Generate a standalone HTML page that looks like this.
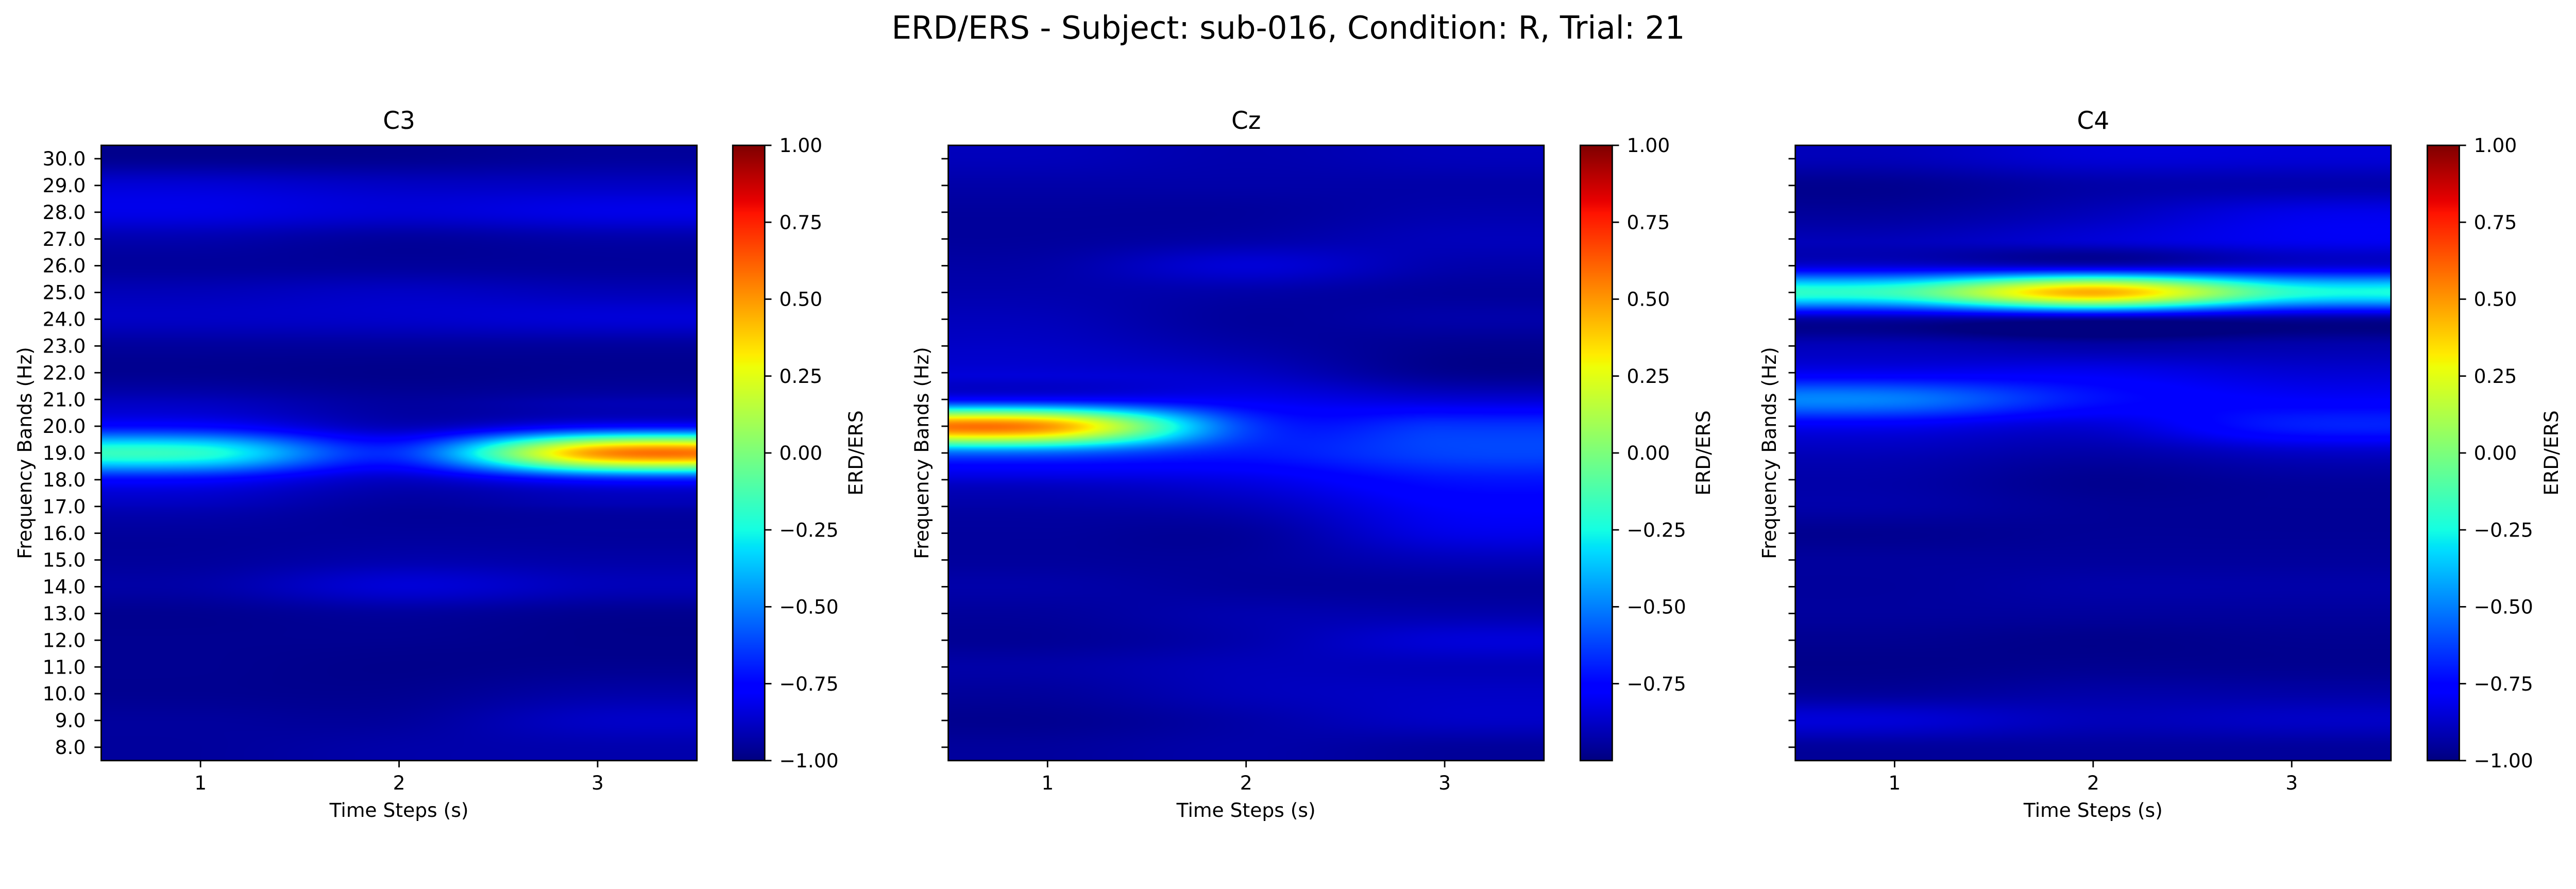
<!DOCTYPE html>
<html><head><meta charset="utf-8">
<meta name="viewport" content="width=5319">
<style>
html,body{margin:0;padding:0;background:#fff;overflow:hidden;}
#root{position:absolute;left:0;top:0;width:5319px;height:1725px;overflow:hidden;background:#fff;font-family:"DejaVu Sans","Liberation Sans",sans-serif;transform-origin:0 0;}
canvas{position:absolute;display:block;}
svg{position:absolute;left:0;top:0;overflow:hidden;display:block;}
</style></head>
<body>
<div id="root">
<canvas id="hm0" style="left:209px;top:300px" width="1230" height="1270"></canvas>
<canvas id="hm1" style="left:1958px;top:300px" width="1230" height="1270"></canvas>
<canvas id="hm2" style="left:3707px;top:300px" width="1230" height="1270"></canvas>
<canvas id="cb0" style="left:1513px;top:300px" width="66" height="1270"></canvas>
<canvas id="cb1" style="left:3263px;top:300px" width="66" height="1270"></canvas>
<canvas id="cb2" style="left:5012px;top:300px" width="66" height="1270"></canvas>
<svg id="ov" width="5319" height="1725" xmlns="http://www.w3.org/2000/svg">
<text x="2660" y="80" font-size="65" text-anchor="middle" fill="#000">ERD/ERS - Subject: sub-016, Condition: R, Trial: 21</text>
</svg>
</div>
<script>
const times = [1, 2, 3];
const freqs = [8,9,10,11,12,13,14,15,16,17,18,19,20,21,22,23,24,25,26,27,28,29,30];
const channels = ["C3", "Cz", "C4"];
const cbTicks = [-1, -0.75, -0.5, -0.25, 0, 0.25, 0.5, 0.75, 1];
const cbTickLabels = ["\u22121.00","\u22120.75","\u22120.50","\u22120.25","0.00","0.25","0.50","0.75","1.00"];
// values per frequency (8..30 Hz) at each time step
const c3T1 = [-0.95,-0.95,-0.97,-0.97,-0.97,-0.97,-0.93,-0.95,-0.95,-0.9,-0.75,-0.2,-0.75,-0.9,-0.97,-0.95,-0.88,-0.9,-0.95,-0.92,-0.82,-0.85,-0.97];
const c3T2 = [-0.93,-0.95,-0.97,-0.98,-0.97,-0.95,-0.85,-0.92,-0.95,-0.95,-0.88,-0.65,-0.9,-0.95,-0.98,-0.95,-0.87,-0.88,-0.95,-0.95,-0.85,-0.88,-0.97];
const c3T3 = [-0.92,-0.88,-0.93,-0.97,-0.98,-0.97,-0.9,-0.93,-0.95,-0.92,-0.7,0.5,-0.75,-0.92,-0.97,-0.95,-0.85,-0.9,-0.95,-0.93,-0.82,-0.88,-0.95];
const czT1 = [-0.95,-0.97,-0.95,-0.93,-0.96,-0.95,-0.93,-0.95,-0.95,-0.93,-0.85,-0.55,0.5,-0.75,-0.85,-0.88,-0.9,-0.92,-0.93,-0.95,-0.95,-0.93,-0.9];
const czT2 = [-0.93,-0.93,-0.9,-0.9,-0.92,-0.92,-0.95,-0.95,-0.95,-0.9,-0.82,-0.7,-0.62,-0.8,-0.88,-0.93,-0.95,-0.93,-0.85,-0.93,-0.95,-0.93,-0.92];
const czT3 = [-0.95,-0.88,-0.88,-0.9,-0.85,-0.92,-0.95,-0.9,-0.82,-0.78,-0.72,-0.62,-0.65,-0.85,-0.97,-0.97,-0.93,-0.95,-0.92,-0.9,-0.92,-0.93,-0.9];
const c4T1 = [-0.95,-0.85,-0.95,-0.98,-0.97,-0.95,-0.95,-0.95,-0.97,-0.93,-0.93,-0.9,-0.8,-0.5,-0.8,-0.9,-0.93,-0.15,-0.85,-0.9,-0.95,-0.97,-0.9];
const c4T2 = [-0.95,-0.9,-0.93,-0.97,-0.98,-0.95,-0.93,-0.95,-0.96,-0.96,-0.97,-0.93,-0.85,-0.72,-0.8,-0.93,-0.95,0.45,-0.88,-0.85,-0.9,-0.93,-0.85];
const c4T3 = [-0.95,-0.88,-0.93,-0.97,-0.97,-0.95,-0.93,-0.95,-0.96,-0.96,-0.95,-0.88,-0.7,-0.78,-0.85,-0.92,-0.95,-0.2,-0.85,-0.8,-0.82,-0.92,-0.85];

const panelData = [[c3T1,c3T2,c3T3],[czT1,czT2,czT3],[c4T1,c4T2,c4T3]];
const plotLeft = [209, 1958, 3707];
const cbLeft = [1513, 3263, 5012];
const PT = 300, PH = 1270, PW = 1230, CBW = 66;
const vmin = -1, vmax = 1;

function fit(){
  const root=document.getElementById('root');
  const vw=document.documentElement.clientWidth||window.innerWidth;
  const vh=document.documentElement.clientHeight||window.innerHeight;
  const s=Math.min(vw/5319, vh/1725);
  root.style.transform='scale('+s+')';
}
fit();
window.addEventListener('resize', fit);

function lin(pts, x){
  for(let i=1;i<pts.length;i++){ if(x<=pts[i][0]){const a=pts[i-1],b=pts[i];return a[1]+(b[1]-a[1])*(x-a[0])/(b[0]-a[0]);} }
  return pts[pts.length-1][1];
}
const JR=[[0,0],[0.35,0],[0.66,1],[0.89,1],[1,0.5]];
const JG=[[0,0],[0.125,0],[0.375,1],[0.64,1],[0.91,0],[1,0]];
const JB=[[0,0.5],[0.11,1],[0.34,1],[0.65,0],[1,0]];
function jet(v){ let x=(v-vmin)/(vmax-vmin); x=Math.max(0,Math.min(1,x)); return [lin(JR,x)*255,lin(JG,x)*255,lin(JB,x)*255]; }
function kern(x){ x=Math.abs(x); if(x<=1) return 1.5*x*x*x-2.5*x*x+1; if(x<2) return -0.5*x*x*x+2.5*x*x-4*x+2; return 0; }
function weights(u, n){ const i0=Math.floor(u); const r=[]; for(let k=-1;k<=2;k++){ const idx=Math.max(0,Math.min(n-1,i0+k)); r.push([idx,kern(u-(i0+k))]); } return r; }
function xScale(t, p){ return plotLeft[p] + (t - 0.5) / times.length * PW; }
function yScale(f){ return PT + PH - (f - (freqs[0]-0.5)) / freqs.length * PH; }

for(let p=0;p<3;p++){
  const cv=document.getElementById('hm'+p), ctx=cv.getContext('2d');
  const img=ctx.createImageData(PW,PH); const cols=panelData[p];
  const nx=times.length, ny=freqs.length;
  const wx=[]; for(let px=0;px<PW;px++) wx.push(weights((px+0.5)/PW*nx-0.5,nx));
  for(let py=0;py<PH;py++){
    const wy=weights((1-(py+0.5)/PH)*ny-0.5,ny);
    const rowv=[]; for(let c=0;c<nx;c++){ let s=0; for(const [j,w] of wy) s+=cols[c][j]*w; rowv.push(s); }
    for(let px=0;px<PW;px++){ let s=0; for(const [i,w] of wx[px]) s+=rowv[i]*w; const c=jet(s); const o=(py*PW+px)*4; img.data[o]=c[0];img.data[o+1]=c[1];img.data[o+2]=c[2];img.data[o+3]=255; }
  }
  ctx.putImageData(img,0,0);
  const cb=document.getElementById('cb'+p).getContext('2d');
  for(let py=0;py<PH;py++){ const v=vmax-(py+0.5)/PH*(vmax-vmin); const c=jet(v); cb.fillStyle='rgb('+c.map(Math.round).join(',')+')'; cb.fillRect(0,py,CBW,1); }
}

const NS='http://www.w3.org/2000/svg', ov=document.getElementById('ov');
function mk(tag, attrs, text){ const e=document.createElementNS(NS,tag); for(const k in attrs) e.setAttribute(k,attrs[k]); if(text!==undefined) e.textContent=text; ov.appendChild(e); return e; }
const cbTickY = v => PT + (vmax - v)/(vmax-vmin)*PH;
for(let p=0;p<3;p++){
  const L=plotLeft[p], cx=L+PW/2;
  let e;
  e=mk('rect',{x:L,y:PT,width:PW,height:PH,fill:'none',stroke:'#000','stroke-width':3});
  
  
  e=mk('text',{x:cx,y:266,'font-size':50,'text-anchor':'middle'},channels[p]);
  
  
  for(let i=0;i<times.length;i++){
    const x=xScale(times[i],p);
    e=mk('line',{x1:x,y1:PT+PH,x2:x,y2:PT+PH+14,stroke:'#000','stroke-width':3});
    
    
    e=mk('text',{x:x,y:1630,'font-size':40,'text-anchor':'middle'},String(times[i]));
    
    
  }
  e=mk('text',{x:cx,y:1686,'font-size':40,'text-anchor':'middle'},'Time Steps (s)');
  
  
  for(let i=0;i<freqs.length;i++){
    const y=yScale(freqs[i]);
    e=mk('line',{x1:L-14,y1:y,x2:L,y2:y,stroke:'#000','stroke-width':3});
    
    
    if(p===0){
      e=mk('text',{x:L-32,y:y+14,'font-size':40,'text-anchor':'end'},freqs[i].toFixed(1));
      
      
    }
  }
  const ylx=[51,1903,3653][p];
  e=mk('text',{x:ylx,y:935,'font-size':40,'text-anchor':'middle','dominant-baseline':'central',transform:'rotate(-90 '+ylx+' 935)'},'Frequency Bands (Hz)');
  
  
  const CL=cbLeft[p];
  e=mk('rect',{x:CL,y:PT,width:CBW,height:PH,fill:'none',stroke:'#000','stroke-width':3});
  
  
  for(let i=0;i<cbTicks.length;i++){
    if(p===1 && cbTicks[i]===-1) continue;
    const y=cbTickY(cbTicks[i]);
    e=mk('line',{x1:CL+CBW,y1:y,x2:CL+CBW+14,y2:y,stroke:'#000','stroke-width':3});
    
    
    e=mk('text',{x:CL+CBW+30,y:y+14,'font-size':40},cbTickLabels[i]);
    
    
  }
  const clx=[1767,3517,5268][p];
  e=mk('text',{x:clx,y:935,'font-size':40,'text-anchor':'middle','dominant-baseline':'central',transform:'rotate(-90 '+clx+' 935)'},'ERD/ERS');
  
  
}
</script>
</body></html>
